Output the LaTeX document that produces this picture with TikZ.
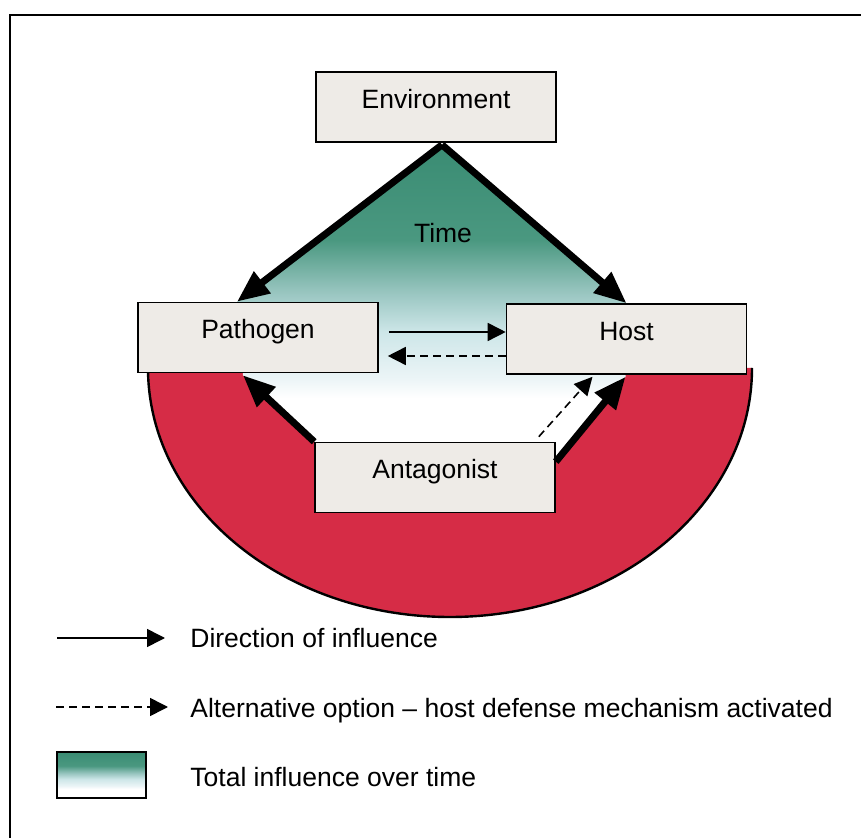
\documentclass[tikz,border=0pt]{standalone}
\usepackage{fontspec}
\setmainfont{Liberation Sans}
\usetikzlibrary{arrows.meta,positioning,calc,backgrounds}
\definecolor{timeTeal}{RGB}{58,140,115}
\definecolor{timeSea}{RGB}{74,152,128}
\definecolor{timeMist}{RGB}{150,196,190}
\definecolor{timeIce}{RGB}{205,230,232}
\definecolor{timeFrost}{RGB}{236,245,247}
\definecolor{antRed}{RGB}{214,44,70}
\definecolor{boxGrey}{RGB}{238,235,231}
\pgfdeclareverticalshading{timefade}{100bp}{color(0bp)=(white); color(35bp)=(white);
  color(38bp)=(timeFrost); color(45.5bp)=(timeIce); color(52bp)=(timeMist);
  color(60bp)=(timeSea); color(75bp)=(timeTeal); color(100bp)=(timeTeal)}

\begin{document}
\begin{tikzpicture}[x=0.5pt,y=-0.5pt,
  font=\fontsize{13.25pt}{16pt}\selectfont,
  box/.style={rectangle,draw=black,line width=0.8pt,fill=boxGrey,
              minimum width=120pt,minimum height=35pt,
              text height=9.5pt,text depth=8pt,inner sep=0pt},
  bigfl/.style={-{Triangle[length=16pt,width=13pt]},line width=3.5pt},
  fl/.style={-{Triangle[length=9pt,width=9pt]},line width=0.8pt},
  dfl/.style={fl,dash pattern=on 4pt off 2.5pt},
  timegrad/.style={shading=timefade},
  key/.style={anchor=base west,inner sep=0pt}
]
  \useasboundingbox (0,0) rectangle (861,838);
  % frame
  \draw[line width=1.2pt] (10,838) -- (10,15) -- (861,15);
  % the four factors
  \node[box] (env)      at (436,107)   {Environment};
  \node[box] (pathogen) at (258,337.5) {Pathogen};
  \node[box] (host)     at (626.5,339) {Host};
  \node[box] (antag)    at (435,477.5) {Antagonist};
  \node (time) at (443,233) {Time};
  % red half ellipse and time gradient
  \begin{scope}[on background layer]
    \fill[antRed] (148,368) arc[start angle=180,end angle=360,x radius=151pt,y radius=124.5pt] -- cycle;
    \draw[line width=1.2pt] (148,368) arc[start angle=180,end angle=360,x radius=151pt,y radius=124.5pt];
    \path[timegrad] ($(env.south)+(6,2)$) -- ($(pathogen.north)+(-21,0)$)
      -- ($(pathogen.south)+(-15,2)$) -- (antag.north west)
      -- ($(antag.north east)+(0,20)$) -- ($(host.south)+(-1,2)$)
      -- (host.north) -- cycle;
  \end{scope}
  % influences
  \draw[bigfl] ($(env.south)+(6,2)$) -- ($(pathogen.north)+(-21,0)$);
  \draw[bigfl] ($(env.south)+(6,2)$) -- (host.north);
  \draw[bigfl] (antag.north west) -- ($(pathogen.south)+(-15,2)$);
  \draw[bigfl] ($(antag.north east)+(0,20)$) -- ($(host.south)+(-1,2)$);
  \draw[dfl] ($(antag.north east)+(-17,-5)$) -- ($(host.south)+(-34,2)$);
  \draw[fl] ($(pathogen.east)+(10,-5.5)$) -- ($(pathogen.east -| host.west)+(0,-5.5)$);
  \draw[dfl] ($(pathogen.east -| host.west)+(0,18.5)$) -- ($(pathogen.east)+(9,18.5)$);
  % legend
  \coordinate (k1a) at (57,638);
  \coordinate (k1b) at (165,638);
  \draw[fl] (k1a) -- (k1b);
  \node[key] (k1) at (190,647) {Direction of influence};
  \coordinate (k2a) at (56,707);
  \coordinate (k2b) at (168,707);
  \draw[dfl] (k2a) -- (k2b);
  \node[key] (k2) at (190,717) {Alternative option – host defense mechanism activated};
  \node[draw,line width=0.8pt,timegrad,minimum width=44.5pt,minimum height=23pt,inner sep=0pt] (k3box) at (101.5,775) {};
  \node[key] (k3) at (190,786) {Total influence over time};
\end{tikzpicture}
\end{document}
